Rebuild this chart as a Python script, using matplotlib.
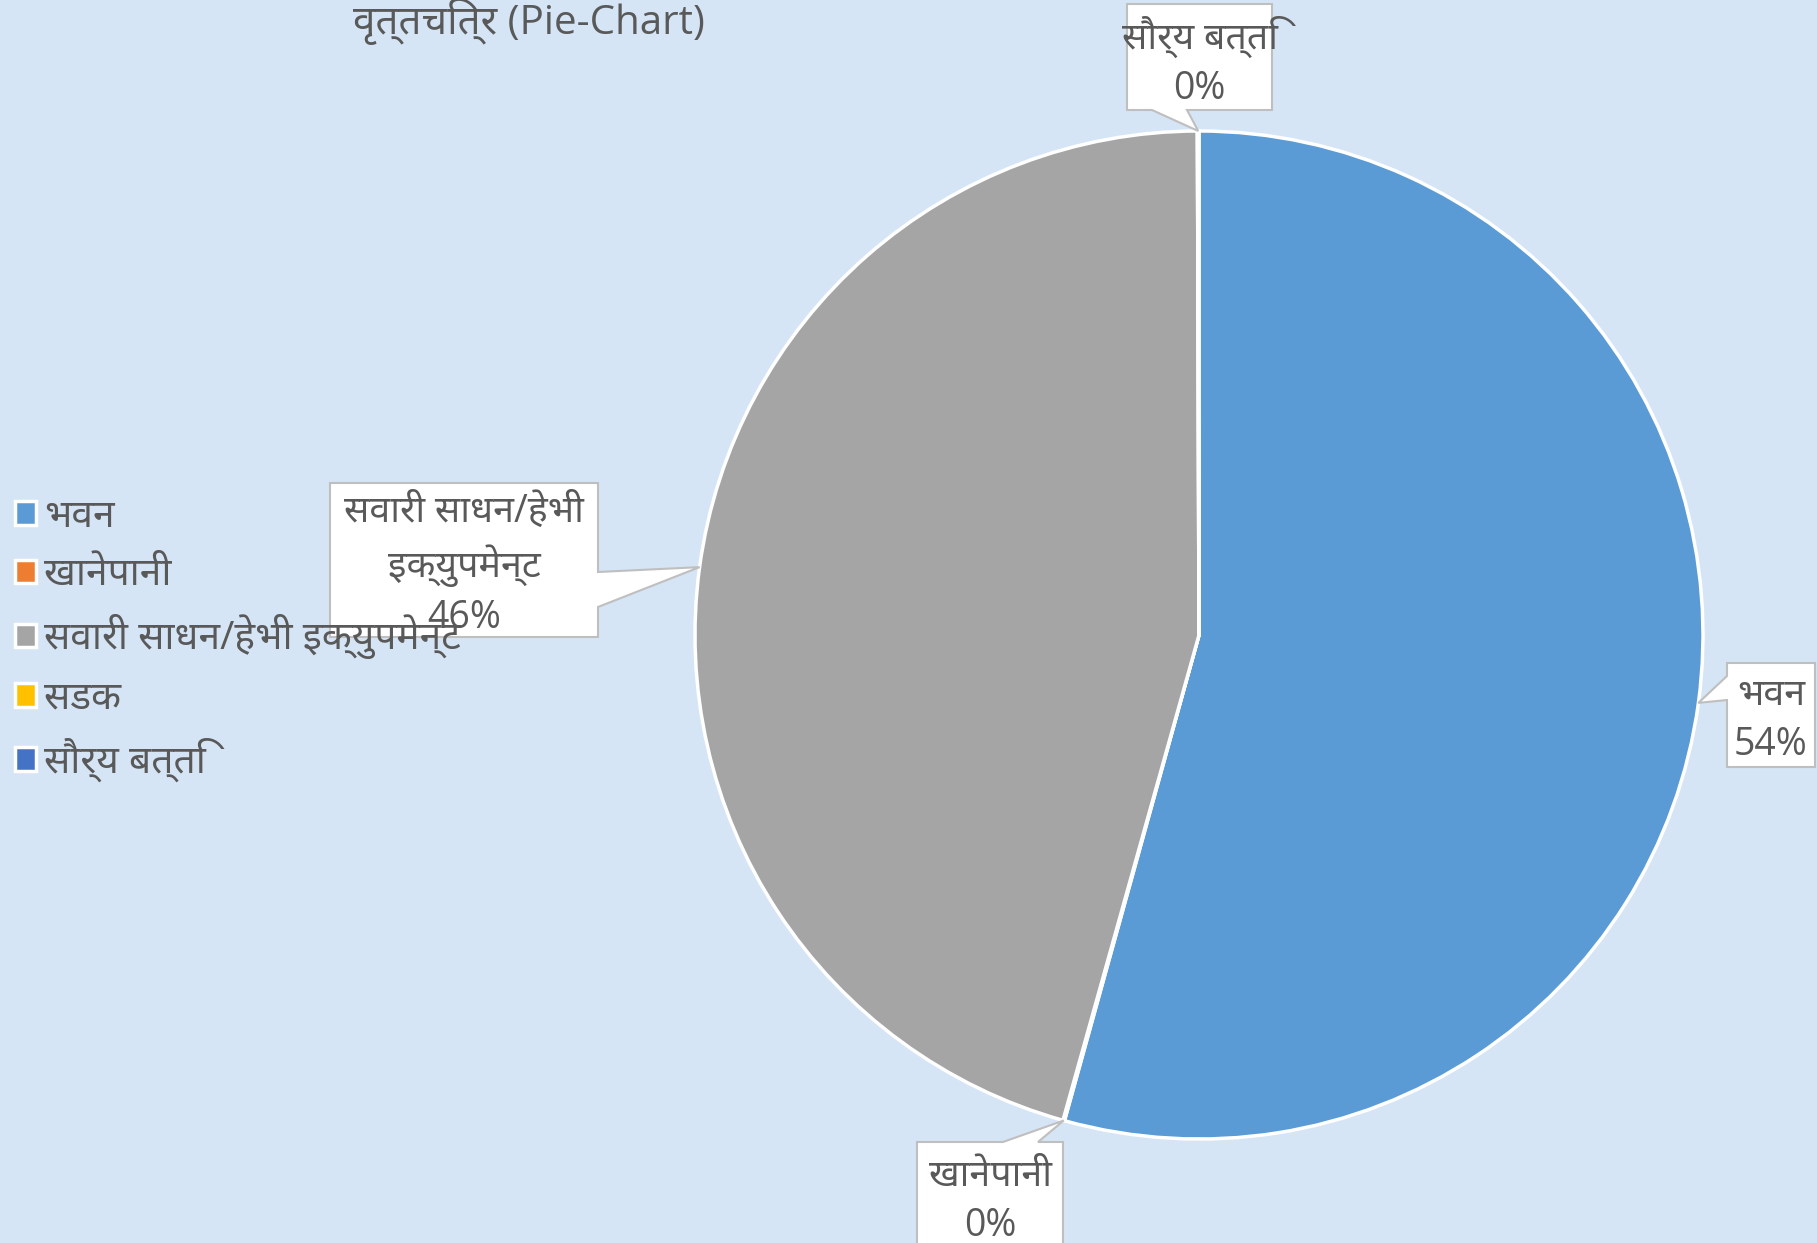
import math
import matplotlib
matplotlib.use('Agg')
import matplotlib.pyplot as plt
from matplotlib import font_manager
from matplotlib.ft2font import FT2Font
from matplotlib.patches import Polygon

# ---------------- data ----------------
categories = ['भवन', 'खानेपानी', 'सवारी साधन/हेभी इक्युपमेन्ट', 'सडक', 'सौर्य बत्ति']
label_names = ['भवन', 'खानेपानी', 'सवारी साधन/हेभी\nइक्युपमेन्ट', 'सडक', 'सौर्य बत्ति']
values = [54.3, 0.05, 45.6, 0.0, 0.05]
colors = ['#5B9BD5', '#ED7D31', '#A5A5A5', '#FFC000', '#4472C4']
title = 'वृत्तचित्र (Pie-Chart)'

# ---------------- fonts ----------------
def find_devanagari_family():
    seen = set()
    found = []
    for fe in font_manager.fontManager.ttflist:
        if fe.fname in seen:
            continue
        seen.add(fe.fname)
        try:
            cmap = FT2Font(fe.fname).get_charmap()
        except Exception:
            continue
        if 0x092D in cmap and 0x0928 in cmap:
            found.append(fe.name)
    for pref in ['Noto Sans Devanagari', 'Lohit Devanagari', 'FreeSans', 'Mukta',
                 'Gargi', 'FreeSerif']:
        if pref in found:
            return pref
    others = [n for n in found if 'Unifont' not in n and 'Mono' not in n]
    if others:
        return others[0]
    return found[0] if found else None

deva = find_devanagari_family()
families = ['Open Sans'] + ([deva] if deva else []) + ['DejaVu Sans']
plt.rcParams['font.family'] = families

TXT = '#595959'
BG = '#d5e5f5'
W, H = 1817, 1243

fig = plt.figure(figsize=(W / 100, H / 100), dpi=100)
fig.patch.set_facecolor(BG)
ax = fig.add_axes([0, 0, 1, 1])
ax.set_facecolor(BG)

cx, cy, R = 1199, H - 635, 504
wedges, _ = ax.pie(values, colors=colors, startangle=90, counterclock=False,
                   center=(cx, cy), radius=R, frame=True,
                   wedgeprops=dict(edgecolor='white', linewidth=2.5))
ax.set_xlim(0, W)
ax.set_ylim(0, H)
ax.set_aspect('equal')
ax.axis('off')

callouts = {
    0: ((1727, 663, 1815, 767), 'left', (676, 700)),
    1: ((917, 1142, 1063, 1250), 'top', (1003, 1038)),
    2: ((330, 483, 598, 637), 'right', (572, 607)),
    4: ((1127, 4, 1272, 110), 'bottom', (1152, 1187)),
}

total = sum(values)
for i, (box, side, base) in callouts.items():
    w = wedges[i]
    th = math.radians((w.theta1 + w.theta2) / 2)
    tx, ty = cx + R * math.cos(th), cy + R * math.sin(th)
    x0, yt, x1, yb = box
    y0, y1 = H - yb, H - yt
    if side == 'left':
        b1, b2 = H - base[1], H - base[0]
        verts = [(x0, y0), (x1, y0), (x1, y1), (x0, y1), (x0, b2), (tx, ty), (x0, b1)]
    elif side == 'right':
        b1, b2 = H - base[1], H - base[0]
        verts = [(x0, y0), (x1, y0), (x1, b1), (tx, ty), (x1, b2), (x1, y1), (x0, y1)]
    elif side == 'top':
        verts = [(x0, y0), (x1, y0), (x1, y1), (base[1], y1), (tx, ty), (base[0], y1), (x0, y1)]
    else:
        verts = [(x0, y0), (base[0], y0), (tx, ty), (base[1], y0), (x1, y0), (x1, y1), (x0, y1)]
    ax.add_patch(Polygon(verts, closed=True, facecolor='white', edgecolor='#BFBFBF',
                         linewidth=1.5, zorder=5))
    pct = '{:.0f}%'.format(values[i] / total * 100)
    ax.text((x0 + x1) / 2, (y0 + y1) / 2 - 5, label_names[i] + '\n' + pct,
            ha='center', va='center', fontsize=27, color=TXT, linespacing=1.4,
            zorder=6)

fig.text(705 / W, 1 - 34 / H, title, ha='right', va='baseline', fontsize=29, color=TXT)

leg = fig.legend(wedges, categories, loc='center left', bbox_to_anchor=(15 / W, 1 - 640 / H),
                 frameon=False, fontsize=28, labelcolor=TXT, handlelength=0.55,
                 handleheight=0.55, handletextpad=0.2, labelspacing=0.52, borderpad=0,
                 borderaxespad=0)
leg.set_zorder(10)

fig.savefig('out.png', dpi=100, facecolor=BG)
